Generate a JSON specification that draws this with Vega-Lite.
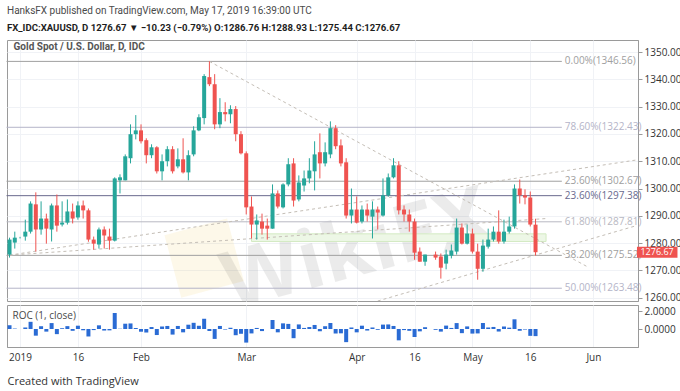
{
  "$schema": "https://vega.github.io/schema/vega-lite/v6.json",
  "background": "white",
  "padding": {"left": 5, "right": 4, "top": 5, "bottom": 2},
  "title": {
    "text": "HanksFX published on TradingView.com, May 17, 2019 16:39:00 UTC",
    "subtitle": "FX_IDC:XAUUSD, D 1276.67 ▼ −10.23 (−0.79%) O:1286.76 H:1288.93 L:1275.44 C:1276.67",
    "anchor": "start", "frame": "group", "baseline": "top",
    "font": "Roboto", "fontSize": 10, "fontWeight": "normal", "color": "#4a4a4a",
    "subtitleFont": "Roboto", "subtitleFontSize": 9.6, "subtitleFontWeight": "bold", "subtitleColor": "#1e1e1e",
    "subtitlePadding": 7, "offset": 7
  },
  "datasets": {
    "ohlc": [
      {"d":"2018-12-28","o":1275.8,"h":1282.0,"l":1274.7,"c":1281.3,"roc":0.42},
      {"d":"2018-12-31","o":1280.2,"h":1284.2,"l":1278.0,"c":1282.0,"roc":0.05},
      {"d":"2019-01-01","o":1282.0,"h":1282.3,"l":1281.7,"c":1282.0,"roc":0},
      {"d":"2019-01-02","o":1282.4,"h":1288.6,"l":1280.9,"c":1284.2,"roc":0.17},
      {"d":"2019-01-03","o":1284.2,"h":1295.3,"l":1283.5,"c":1294.5,"roc":0.80},
      {"d":"2019-01-04","o":1294.2,"h":1298.6,"l":1276.9,"c":1285.0,"roc":-0.74},
      {"d":"2019-01-07","o":1285.0,"h":1295.3,"l":1283.1,"c":1289.0,"roc":0.31},
      {"d":"2019-01-08","o":1289.0,"h":1290.8,"l":1279.8,"c":1285.3,"roc":-0.29},
      {"d":"2019-01-09","o":1285.0,"h":1294.5,"l":1280.6,"c":1293.8,"roc":0.66},
      {"d":"2019-01-10","o":1293.8,"h":1297.8,"l":1284.2,"c":1286.4,"roc":-0.57},
      {"d":"2019-01-11","o":1286.8,"h":1295.3,"l":1286.1,"c":1287.5,"roc":0.09},
      {"d":"2019-01-14","o":1287.5,"h":1296.0,"l":1286.8,"c":1291.6,"roc":0.32},
      {"d":"2019-01-15","o":1291.6,"h":1294.5,"l":1287.2,"c":1289.0,"roc":-0.20},
      {"d":"2019-01-16","o":1289.4,"h":1295.3,"l":1288.6,"c":1293.8,"roc":0.37},
      {"d":"2019-01-17","o":1293.8,"h":1295.6,"l":1289.0,"c":1292.0,"roc":-0.14},
      {"d":"2019-01-18","o":1292.0,"h":1292.7,"l":1280.5,"c":1281.3,"roc":-0.83},
      {"d":"2019-01-21","o":1281.3,"h":1282.4,"l":1277.6,"c":1279.8,"roc":-0.12},
      {"d":"2019-01-22","o":1279.5,"h":1285.7,"l":1278.0,"c":1285.0,"roc":0.41},
      {"d":"2019-01-23","o":1285.0,"h":1286.1,"l":1278.0,"c":1282.8,"roc":-0.17},
      {"d":"2019-01-24","o":1282.4,"h":1285.3,"l":1277.6,"c":1280.9,"roc":-0.15},
      {"d":"2019-01-25","o":1280.9,"h":1304.1,"l":1280.6,"c":1303.7,"roc":1.78},
      {"d":"2019-01-28","o":1303.0,"h":1305.2,"l":1298.2,"c":1304.1,"roc":0.03},
      {"d":"2019-01-29","o":1303.0,"h":1312.5,"l":1303.0,"c":1311.8,"roc":0.59},
      {"d":"2019-01-30","o":1311.1,"h":1323.5,"l":1309.2,"c":1319.9,"roc":0.62},
      {"d":"2019-01-31","o":1319.9,"h":1326.9,"l":1318.0,"c":1321.3,"roc":0.11},
      {"d":"2019-02-01","o":1321.3,"h":1323.5,"l":1316.5,"c":1317.3,"roc":-0.30},
      {"d":"2019-02-04","o":1317.7,"h":1318.4,"l":1309.2,"c":1312.2,"roc":-0.39},
      {"d":"2019-02-05","o":1312.2,"h":1316.2,"l":1311.1,"c":1315.1,"roc":0.22},
      {"d":"2019-02-06","o":1315.1,"h":1315.5,"l":1305.5,"c":1306.3,"roc":-0.67},
      {"d":"2019-02-07","o":1306.3,"h":1312.5,"l":1303.0,"c":1310.0,"roc":0.28},
      {"d":"2019-02-08","o":1310.0,"h":1315.5,"l":1308.1,"c":1314.4,"roc":0.34},
      {"d":"2019-02-11","o":1314.4,"h":1315.5,"l":1305.5,"c":1306.3,"roc":-0.62},
      {"d":"2019-02-12","o":1308.1,"h":1314.7,"l":1307.4,"c":1310.7,"roc":0.34},
      {"d":"2019-02-13","o":1310.7,"h":1318.4,"l":1305.5,"c":1305.9,"roc":-0.37},
      {"d":"2019-02-14","o":1305.9,"h":1314.0,"l":1303.0,"c":1312.2,"roc":0.48},
      {"d":"2019-02-15","o":1312.5,"h":1322.8,"l":1311.8,"c":1321.3,"roc":0.69},
      {"d":"2019-02-18","o":1321.3,"h":1327.2,"l":1321.0,"c":1326.1,"roc":0.36},
      {"d":"2019-02-19","o":1325.8,"h":1341.9,"l":1323.5,"c":1341.2,"roc":1.14},
      {"d":"2019-02-20","o":1340.8,"h":1346.6,"l":1337.5,"c":1338.2,"roc":-0.22},
      {"d":"2019-02-21","o":1338.2,"h":1341.9,"l":1321.7,"c":1323.5,"roc":-1.10},
      {"d":"2019-02-22","o":1323.5,"h":1333.1,"l":1322.1,"c":1328.0,"roc":0.34},
      {"d":"2019-02-25","o":1328.0,"h":1331.6,"l":1324.6,"c":1327.2,"roc":-0.06},
      {"d":"2019-02-26","o":1327.2,"h":1330.5,"l":1323.9,"c":1329.1,"roc":0.14},
      {"d":"2019-02-27","o":1329.1,"h":1330.2,"l":1317.3,"c":1319.9,"roc":-0.69},
      {"d":"2019-02-28","o":1319.9,"h":1321.0,"l":1312.5,"c":1312.9,"roc":-0.53},
      {"d":"2019-03-01","o":1312.9,"h":1313.6,"l":1290.5,"c":1293.1,"roc":-1.51},
      {"d":"2019-03-04","o":1293.4,"h":1297.1,"l":1281.7,"c":1286.8,"roc":-0.49},
      {"d":"2019-03-05","o":1286.8,"h":1290.5,"l":1281.3,"c":1288.3,"roc":0.12},
      {"d":"2019-03-06","o":1287.9,"h":1290.8,"l":1283.1,"c":1285.3,"roc":-0.23},
      {"d":"2019-03-07","o":1286.4,"h":1289.0,"l":1281.3,"c":1285.3,"roc":0.0},
      {"d":"2019-03-08","o":1285.3,"h":1301.5,"l":1285.3,"c":1298.2,"roc":1.00},
      {"d":"2019-03-11","o":1298.2,"h":1299.3,"l":1292.7,"c":1293.4,"roc":-0.37},
      {"d":"2019-03-12","o":1293.1,"h":1301.9,"l":1292.7,"c":1301.5,"roc":0.63},
      {"d":"2019-03-13","o":1301.5,"h":1311.1,"l":1300.8,"c":1308.9,"roc":0.57},
      {"d":"2019-03-14","o":1309.2,"h":1311.1,"l":1293.4,"c":1295.6,"roc":-1.02},
      {"d":"2019-03-15","o":1296.0,"h":1304.8,"l":1295.3,"c":1302.2,"roc":0.51},
      {"d":"2019-03-18","o":1301.1,"h":1306.6,"l":1298.9,"c":1303.7,"roc":0.12},
      {"d":"2019-03-19","o":1303.7,"h":1311.1,"l":1301.9,"c":1306.6,"roc":0.22},
      {"d":"2019-03-20","o":1306.3,"h":1317.3,"l":1299.3,"c":1312.5,"roc":0.45},
      {"d":"2019-03-21","o":1313.3,"h":1320.2,"l":1303.7,"c":1309.2,"roc":-0.25},
      {"d":"2019-03-22","o":1309.2,"h":1316.9,"l":1308.1,"c":1313.3,"roc":0.31},
      {"d":"2019-03-25","o":1312.5,"h":1324.6,"l":1311.1,"c":1322.1,"roc":0.67},
      {"d":"2019-03-26","o":1322.1,"h":1323.2,"l":1314.4,"c":1315.5,"roc":-0.50},
      {"d":"2019-03-27","o":1315.8,"h":1318.0,"l":1308.1,"c":1309.2,"roc":-0.48},
      {"d":"2019-03-28","o":1309.6,"h":1311.1,"l":1289.0,"c":1290.1,"roc":-1.46},
      {"d":"2019-03-29","o":1290.1,"h":1300.0,"l":1287.2,"c":1292.3,"roc":0.17},
      {"d":"2019-04-01","o":1292.3,"h":1297.1,"l":1287.2,"c":1287.5,"roc":-0.37},
      {"d":"2019-04-02","o":1287.9,"h":1293.8,"l":1287.2,"c":1292.3,"roc":0.37},
      {"d":"2019-04-03","o":1292.3,"h":1294.5,"l":1287.9,"c":1290.1,"roc":-0.17},
      {"d":"2019-04-04","o":1289.7,"h":1295.3,"l":1281.7,"c":1292.3,"roc":0.17},
      {"d":"2019-04-05","o":1292.3,"h":1293.4,"l":1285.0,"c":1291.2,"roc":-0.09},
      {"d":"2019-04-08","o":1290.1,"h":1303.7,"l":1289.7,"c":1297.5,"roc":0.49},
      {"d":"2019-04-09","o":1297.5,"h":1305.5,"l":1297.0,"c":1304.1,"roc":0.51},
      {"d":"2019-04-10","o":1304.1,"h":1311.1,"l":1303.7,"c":1308.5,"roc":0.34},
      {"d":"2019-04-11","o":1308.5,"h":1310.0,"l":1290.5,"c":1292.0,"roc":-1.26},
      {"d":"2019-04-12","o":1292.3,"h":1293.8,"l":1287.9,"c":1290.5,"roc":-0.12},
      {"d":"2019-04-15","o":1290.5,"h":1292.3,"l":1284.2,"c":1287.9,"roc":-0.20},
      {"d":"2019-04-16","o":1287.9,"h":1289.0,"l":1273.9,"c":1276.5,"roc":-0.89},
      {"d":"2019-04-17","o":1276.9,"h":1278.4,"l":1273.2,"c":1273.2,"roc":-0.26},
      {"d":"2019-04-18","o":1273.2,"h":1275.8,"l":1271.7,"c":1275.8,"roc":0.20},
      {"d":"2019-04-22","o":1275.8,"h":1276.9,"l":1273.9,"c":1274.7,"roc":-0.09},
      {"d":"2019-04-23","o":1275.1,"h":1276.2,"l":1267.0,"c":1271.0,"roc":-0.29},
      {"d":"2019-04-24","o":1272.5,"h":1277.6,"l":1270.4,"c":1275.8,"roc":0.38},
      {"d":"2019-04-25","o":1275.4,"h":1279.5,"l":1274.4,"c":1277.3,"roc":0.12},
      {"d":"2019-04-26","o":1276.9,"h":1289.0,"l":1275.8,"c":1285.7,"roc":0.66},
      {"d":"2019-04-29","o":1285.7,"h":1287.2,"l":1279.5,"c":1279.8,"roc":-0.46},
      {"d":"2019-04-30","o":1279.8,"h":1286.8,"l":1279.5,"c":1283.5,"roc":0.29},
      {"d":"2019-05-01","o":1283.5,"h":1285.3,"l":1276.2,"c":1276.9,"roc":-0.51},
      {"d":"2019-05-02","o":1276.9,"h":1279.8,"l":1266.6,"c":1270.6,"roc":-0.49},
      {"d":"2019-05-03","o":1270.6,"h":1281.3,"l":1269.5,"c":1279.1,"roc":0.67},
      {"d":"2019-05-06","o":1278.7,"h":1285.3,"l":1278.0,"c":1281.3,"roc":0.17},
      {"d":"2019-05-07","o":1281.3,"h":1286.1,"l":1280.6,"c":1284.2,"roc":0.23},
      {"d":"2019-05-08","o":1284.2,"h":1292.0,"l":1279.8,"c":1280.6,"roc":-0.28},
      {"d":"2019-05-09","o":1280.6,"h":1288.6,"l":1279.8,"c":1284.2,"roc":0.28},
      {"d":"2019-05-10","o":1284.2,"h":1289.7,"l":1283.5,"c":1286.1,"roc":0.15},
      {"d":"2019-05-13","o":1286.1,"h":1301.5,"l":1285.3,"c":1300.0,"roc":1.08},
      {"d":"2019-05-14","o":1300.0,"h":1303.3,"l":1294.5,"c":1297.5,"roc":-0.19},
      {"d":"2019-05-15","o":1297.5,"h":1299.7,"l":1294.2,"c":1296.7,"roc":-0.06},
      {"d":"2019-05-16","o":1296.7,"h":1298.9,"l":1286.1,"c":1286.8,"roc":-0.76},
      {"d":"2019-05-17","o":1286.76,"h":1288.93,"l":1275.44,"c":1276.67,"roc":-0.79}
    ],
    "fib": [
      {"p":1346.56,"t":"0.00%(1346.56)"},
      {"p":1322.43,"t":"78.60%(1322.43)"},
      {"p":1302.67,"t":"23.60%(1302.67)"},
      {"p":1297.38,"t":"23.60%(1297.38)"},
      {"p":1287.81,"t":"61.80%(1287.81)"},
      {"p":1275.52,"t":"38.20%(1275.52)"},
      {"p":1263.48,"t":"50.00%(1263.48)"}
    ],
    "trend": [
      {"d0":"2019-02-20","p0":1346.56,"d1":"2019-05-31","p1":1271.2},
      {"d0":"2018-12-28","p0":1275.6,"d1":"2019-06-13","p1":1310.4},
      {"d0":"2018-12-28","p0":1275.6,"d1":"2019-05-21","p1":1289.0},
      {"d0":"2019-04-05","p0":1258.8,"d1":"2019-06-13","p1":1286.3}
    ],
    "zone": [
      {"d0":"2019-03-04","d1":"2019-05-21","top":1283.4,"bot":1280.6}
    ],
    "labels": [
      {"d":"2019-04-01","p":1277,"t":"WikiFX"}
    ],
    "logo": [
      {"d":"2019-02-19","p":1274.5}
    ],
    "last": [
      {"d":"2019-06-13","p":1276.67,"t":"1276.67"}
    ],
    "panes": [
      {"d":"2018-12-28","p":1354.4,"r":2.67,"main":"Gold Spot / U.S. Dollar, D, IDC","sub":"ROC (1, close)"}
    ]
  },
  "vconcat": [
    {
      "width": 631,
      "height": 261,
      "encoding": {
        "x": {
          "field": "d", "type": "ordinal", "title": null,
          "scale": {"type": "point", "padding": 0.48, "domain": ["2018-12-28","2018-12-31","2019-01-01","2019-01-02","2019-01-03","2019-01-04","2019-01-07","2019-01-08","2019-01-09","2019-01-10","2019-01-11","2019-01-14","2019-01-15","2019-01-16","2019-01-17","2019-01-18","2019-01-21","2019-01-22","2019-01-23","2019-01-24","2019-01-25","2019-01-28","2019-01-29","2019-01-30","2019-01-31","2019-02-01","2019-02-04","2019-02-05","2019-02-06","2019-02-07","2019-02-08","2019-02-11","2019-02-12","2019-02-13","2019-02-14","2019-02-15","2019-02-18","2019-02-19","2019-02-20","2019-02-21","2019-02-22","2019-02-25","2019-02-26","2019-02-27","2019-02-28","2019-03-01","2019-03-04","2019-03-05","2019-03-06","2019-03-07","2019-03-08","2019-03-11","2019-03-12","2019-03-13","2019-03-14","2019-03-15","2019-03-18","2019-03-19","2019-03-20","2019-03-21","2019-03-22","2019-03-25","2019-03-26","2019-03-27","2019-03-28","2019-03-29","2019-04-01","2019-04-02","2019-04-03","2019-04-04","2019-04-05","2019-04-08","2019-04-09","2019-04-10","2019-04-11","2019-04-12","2019-04-15","2019-04-16","2019-04-17","2019-04-18","2019-04-19","2019-04-22","2019-04-23","2019-04-24","2019-04-25","2019-04-26","2019-04-29","2019-04-30","2019-05-01","2019-05-02","2019-05-03","2019-05-06","2019-05-07","2019-05-08","2019-05-09","2019-05-10","2019-05-13","2019-05-14","2019-05-15","2019-05-16","2019-05-17","2019-05-20","2019-05-21","2019-05-22","2019-05-23","2019-05-24","2019-05-27","2019-05-28","2019-05-29","2019-05-30","2019-05-31","2019-06-03","2019-06-04","2019-06-05","2019-06-06","2019-06-07","2019-06-10","2019-06-11","2019-06-12","2019-06-13"]},
          "axis": {"values": ["2019-01-01","2019-01-16","2019-02-01","2019-03-01","2019-04-01","2019-04-16","2019-05-01","2019-05-16","2019-06-03"], "grid": true, "gridColor": "#f0f2f6", "labels": false, "ticks": false, "domain": false, "title": null}
        },
        "y": {
          "field": "p", "type": "quantitative", "title": null,
          "scale": {"domain": [1258.8, 1354.4], "nice": false, "zero": false},
          "axis": {
            "orient": "right", "title": null, "format": ".2f",
            "values": [1260, 1270, 1280, 1290, 1300, 1310, 1320, 1330, 1340, 1350],
            "grid": true, "gridColor": "#f0f2f6",
            "domain": true, "domainColor": "#9a9a9a",
            "tickSize": 4, "tickColor": "#9a9a9a",
            "labelColor": "#333333", "labelPadding": 2, "labelFontSize": 10
          }
        }
      },
      "layer": [
        {
          "data": {"name": "logo"},
          "mark": {"type": "point", "shape": "square", "filled": true, "size": 4200, "angle": 345, "color": "#f2c94c", "opacity": 0.12, "clip": true}
        },
        {
          "data": {"name": "labels"},
          "mark": {"type": "text", "font": "Open Sans", "fontSize": 80, "fontWeight": "bold", "angle": 345, "color": "#000000", "opacity": 0.075, "clip": true},
          "encoding": {
            "text": {"field": "t"}
          }
        },
        {
          "data": {"name": "zone"},
          "mark": {"type": "rect", "fill": "#edf7e6", "stroke": "#d3eac3", "strokeWidth": 1},
          "encoding": {
            "x": {"field": "d0", "type": "ordinal", "title": null},
            "x2": {"field": "d1"},
            "y": {"field": "top", "type": "quantitative", "title": null},
            "y2": {"field": "bot"}
          }
        },
        {
          "data": {"name": "fib"},
          "mark": {"type": "rule", "strokeWidth": 1, "xOffset": -3},
          "encoding": {
            "x": {"datum": "2018-12-28", "type": "ordinal", "title": null},
            "x2": {"datum": "2019-05-24"},
            "color": {"field": "t", "type": "nominal", "legend": null,
              "scale": {"domain": ["0.00%(1346.56)","78.60%(1322.43)","23.60%(1302.67)","23.60%(1297.38)","61.80%(1287.81)","38.20%(1275.52)","50.00%(1263.48)"],
                        "range": ["#a0a0a0","#b4b4c8","#a0a0a0","#6a6a8e","#b8b8c2","#a0a0a0","#b4b4c8"]}}
          }
        },
        {
          "data": {"name": "fib"},
          "mark": {"type": "text", "align": "left", "baseline": "middle", "dx": 3, "font": "Open Sans", "fontSize": 10},
          "encoding": {
            "x": {"datum": "2019-05-24", "type": "ordinal", "title": null},
            "text": {"field": "t"},
            "color": {"field": "t", "type": "nominal", "legend": null}
          }
        },
        {
          "data": {"name": "trend"},
          "mark": {"type": "rule", "strokeWidth": 1, "strokeDash": [3, 3], "color": "#c4beb6", "clip": true},
          "encoding": {
            "x": {"field": "d0", "type": "ordinal", "title": null},
            "x2": {"field": "d1"},
            "y": {"field": "p0", "type": "quantitative", "title": null},
            "y2": {"field": "p1"}
          }
        },
        {
          "data": {"name": "ohlc"},
          "mark": {"type": "rule", "strokeWidth": 1},
          "encoding": {
            "y": {"field": "l", "type": "quantitative", "title": null},
            "y2": {"field": "h"},
            "color": {"condition": {"test": "datum.c >= datum.o", "value": "#26a69a"}, "value": "#ef5350"}
          }
        },
        {
          "data": {"name": "ohlc"},
          "mark": {"type": "bar", "size": 4},
          "encoding": {
            "y": {"field": "o", "type": "quantitative", "title": null},
            "y2": {"field": "c"},
            "color": {"condition": {"test": "datum.c >= datum.o", "value": "#26a69a"}, "value": "#ef5350"}
          }
        },
        {
          "data": {"name": "panes"},
          "mark": {"type": "text", "align": "left", "baseline": "top", "dx": 4, "dy": 2, "font": "Roboto", "fontSize": 10, "fontWeight": "bold", "color": "#555555"},
          "encoding": {
            "text": {"field": "main"}
          }
        },
        {
          "data": {"name": "last"},
          "mark": {"type": "rect", "color": "#ef5350", "clip": false, "xOffset": 1.5, "x2Offset": 42, "yOffset": -5.5, "y2Offset": 5.5},
          "encoding": {
            "x2": {"field": "d"},
            "y2": {"field": "p"}
          }
        },
        {
          "data": {"name": "last"},
          "mark": {"type": "text", "color": "#ffffff", "clip": false, "align": "left", "baseline": "middle", "dx": 5, "font": "Open Sans", "fontSize": 9},
          "encoding": {
            "text": {"field": "t"}
          }
        }
      ]
    },
    {
      "width": 631,
      "height": 42,
      "encoding": {
        "x": {
          "field": "d", "type": "ordinal", "title": null,
          "scale": {"type": "point", "padding": 0.48, "domain": ["2018-12-28","2018-12-31","2019-01-01","2019-01-02","2019-01-03","2019-01-04","2019-01-07","2019-01-08","2019-01-09","2019-01-10","2019-01-11","2019-01-14","2019-01-15","2019-01-16","2019-01-17","2019-01-18","2019-01-21","2019-01-22","2019-01-23","2019-01-24","2019-01-25","2019-01-28","2019-01-29","2019-01-30","2019-01-31","2019-02-01","2019-02-04","2019-02-05","2019-02-06","2019-02-07","2019-02-08","2019-02-11","2019-02-12","2019-02-13","2019-02-14","2019-02-15","2019-02-18","2019-02-19","2019-02-20","2019-02-21","2019-02-22","2019-02-25","2019-02-26","2019-02-27","2019-02-28","2019-03-01","2019-03-04","2019-03-05","2019-03-06","2019-03-07","2019-03-08","2019-03-11","2019-03-12","2019-03-13","2019-03-14","2019-03-15","2019-03-18","2019-03-19","2019-03-20","2019-03-21","2019-03-22","2019-03-25","2019-03-26","2019-03-27","2019-03-28","2019-03-29","2019-04-01","2019-04-02","2019-04-03","2019-04-04","2019-04-05","2019-04-08","2019-04-09","2019-04-10","2019-04-11","2019-04-12","2019-04-15","2019-04-16","2019-04-17","2019-04-18","2019-04-19","2019-04-22","2019-04-23","2019-04-24","2019-04-25","2019-04-26","2019-04-29","2019-04-30","2019-05-01","2019-05-02","2019-05-03","2019-05-06","2019-05-07","2019-05-08","2019-05-09","2019-05-10","2019-05-13","2019-05-14","2019-05-15","2019-05-16","2019-05-17","2019-05-20","2019-05-21","2019-05-22","2019-05-23","2019-05-24","2019-05-27","2019-05-28","2019-05-29","2019-05-30","2019-05-31","2019-06-03","2019-06-04","2019-06-05","2019-06-06","2019-06-07","2019-06-10","2019-06-11","2019-06-12","2019-06-13"]},
          "axis": {
            "values": ["2019-01-01","2019-01-16","2019-02-01","2019-03-01","2019-04-01","2019-04-16","2019-05-01","2019-05-16","2019-06-03"],
            "labelExpr": "datum.value == '2019-01-01' ? '2019' : datum.value == '2019-02-01' ? 'Feb' : datum.value == '2019-03-01' ? 'Mar' : datum.value == '2019-04-01' ? 'Apr' : datum.value == '2019-05-01' ? 'May' : datum.value == '2019-06-03' ? 'Jun' : '16'",
            "labelAngle": 0, "labelFontSize": 10, "labelColor": "#333333", "labelPadding": 5,
            "grid": true, "gridColor": "#f0f2f6", "ticks": false, "domain": true, "domainColor": "#9a9a9a",
            "title": "Created with  TradingView", "titleAnchor": "start", "titleAlign": "left",
            "titleFont": "Open Sans", "titleFontSize": 11, "titleFontWeight": "normal", "titleColor": "#333333", "titlePadding": 13
          }
        },
        "y": {
          "field": "roc", "type": "quantitative", "title": null,
          "scale": {"domain": [-2.0, 2.67], "nice": false, "zero": false},
          "axis": {"orient": "right", "title": null, "values": [0, 2], "format": ".4f", "grid": false, "tickSize": 4, "tickColor": "#9a9a9a", "domainColor": "#9a9a9a", "labelFontSize": 10, "labelColor": "#333333", "labelPadding": 2}
        }
      },
      "layer": [
        {
          "data": {"name": "ohlc"},
          "mark": {"type": "bar", "size": 4, "color": "#2a6bd4"},
          "encoding": {
            "y2": {"datum": 0}
          }
        },
        {
          "data": {"name": "panes"},
          "mark": {"type": "text", "align": "left", "baseline": "top", "dx": 3, "dy": 6, "font": "Open Sans", "fontSize": 10, "color": "#4a4a4a"},
          "encoding": {
            "y": {"field": "r", "type": "quantitative", "title": null},
            "text": {"field": "sub"}
          }
        }
      ]
    }
  ],
  "spacing": 0,
  "config": {
    "font": "Open Sans",
    "view": {"stroke": "#9a9a9a", "strokeWidth": 1},
    "axis": {"labelFont": "Open Sans"}
  }
}
